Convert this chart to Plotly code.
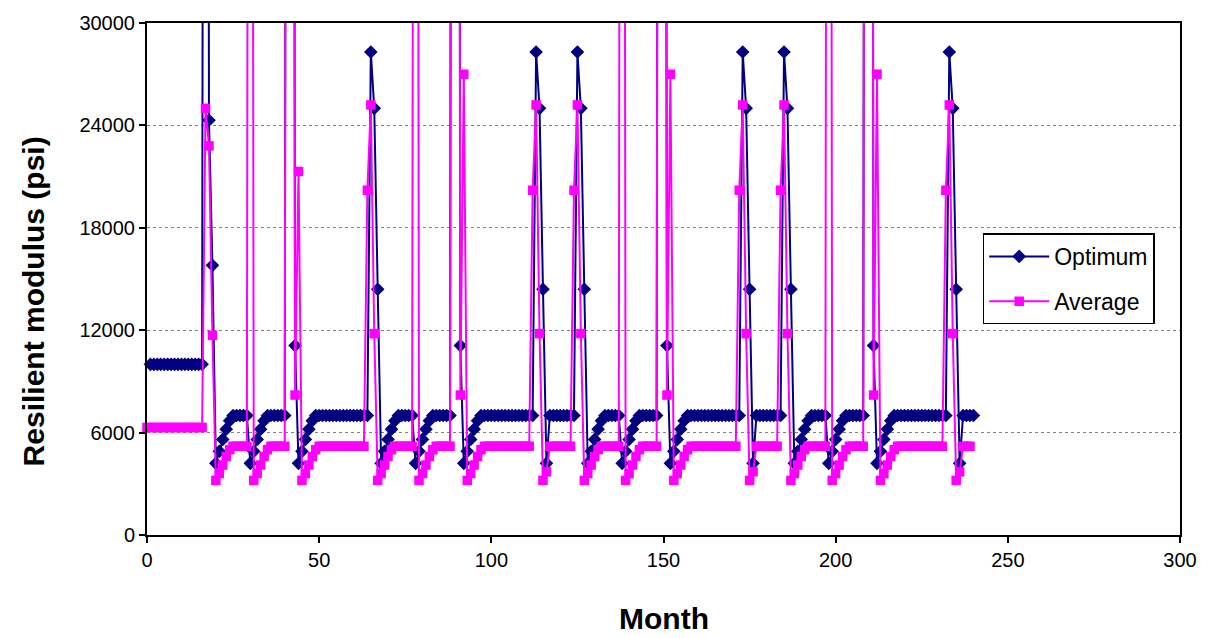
import plotly.graph_objects as go

# Monthly resilient modulus (psi) of the subgrade over 20 years.
# Values above 30000 psi are frozen-soil periods that run off the top of the axis.

# Optimum moisture content, months 1..240 (one row per 12 months)
opt_month = list(range(1, 241))
opt_psi = [
    10000, 10000, 10000, 10000, 10000, 10000, 10000, 10000, 10000, 10000, 10000, 10000,
    10000, 10000, 10000, 10000, 150000, 24300, 15800, 4200, 4900, 5600, 6200, 6700,
    7000, 7000, 7000, 7000, 7000, 4200, 4900, 5600, 6200, 6700, 7000, 7000,
    7000, 7000, 7000, 7000, 150000, 150000, 11100, 4200, 4900, 5600, 6200, 6700,
    7000, 7000, 7000, 7000, 7000, 7000, 7000, 7000, 7000, 7000, 7000, 7000,
    7000, 7000, 7000, 7000, 28300, 25000, 14400, 4200, 4900, 5600, 6200, 6700,
    7000, 7000, 7000, 7000, 7000, 4200, 4900, 5600, 6200, 6700, 7000, 7000,
    7000, 7000, 7000, 7000, 150000, 150000, 11100, 4200, 4900, 5600, 6200, 6700,
    7000, 7000, 7000, 7000, 7000, 7000, 7000, 7000, 7000, 7000, 7000, 7000,
    7000, 7000, 7000, 7000, 28300, 25000, 14400, 4200, 7000, 7000, 7000, 7000,
    7000, 7000, 7000, 7000, 28300, 25000, 14400, 4200, 4900, 5600, 6200, 6700,
    7000, 7000, 7000, 7000, 7000, 4200, 4900, 5600, 6200, 6700, 7000, 7000,
    7000, 7000, 7000, 7000, 150000, 150000, 11100, 4200, 4900, 5600, 6200, 6700,
    7000, 7000, 7000, 7000, 7000, 7000, 7000, 7000, 7000, 7000, 7000, 7000,
    7000, 7000, 7000, 7000, 28300, 25000, 14400, 4200, 7000, 7000, 7000, 7000,
    7000, 7000, 7000, 7000, 28300, 25000, 14400, 4200, 4900, 5600, 6200, 6700,
    7000, 7000, 7000, 7000, 7000, 4200, 4900, 5600, 6200, 6700, 7000, 7000,
    7000, 7000, 7000, 7000, 150000, 150000, 11100, 4200, 4900, 5600, 6200, 6700,
    7000, 7000, 7000, 7000, 7000, 7000, 7000, 7000, 7000, 7000, 7000, 7000,
    7000, 7000, 7000, 7000, 28300, 25000, 14400, 4200, 7000, 7000, 7000, 7000,
]

# Average moisture content, months 0..239 (one row per 12 months)
avg_month = list(range(0, 240))
avg_psi = [
    6300, 6300, 6300, 6300, 6300, 6300, 6300, 6300, 6300, 6300, 6300, 6300,
    6300, 6300, 6300, 6300, 6300, 25000, 22800, 11700, 3200, 3600, 4100, 4600,
    5000, 5200, 5200, 5200, 5200, 5200, 150000, 3200, 3600, 4100, 4600, 5000,
    5200, 5200, 5200, 5200, 5200, 150000, 150000, 8200, 21300, 3200, 3600, 4100,
    4600, 5000, 5200, 5200, 5200, 5200, 5200, 5200, 5200, 5200, 5200, 5200,
    5200, 5200, 5200, 5200, 20200, 25200, 11800, 3200, 3600, 4100, 4600, 5000,
    5200, 5200, 5200, 5200, 5200, 5200, 150000, 3200, 3600, 4100, 4600, 5000,
    5200, 5200, 5200, 5200, 5200, 150000, 150000, 8200, 27000, 3200, 3600, 4100,
    4600, 5000, 5200, 5200, 5200, 5200, 5200, 5200, 5200, 5200, 5200, 5200,
    5200, 5200, 5200, 5200, 20200, 25200, 11800, 3200, 3700, 5200, 5200, 5200,
    5200, 5200, 5200, 5200, 20200, 25200, 11800, 3200, 3600, 4100, 4600, 5000,
    5200, 5200, 5200, 5200, 5200, 5200, 150000, 3200, 3600, 4100, 4600, 5000,
    5200, 5200, 5200, 5200, 5200, 150000, 150000, 8200, 27000, 3200, 3600, 4100,
    4600, 5000, 5200, 5200, 5200, 5200, 5200, 5200, 5200, 5200, 5200, 5200,
    5200, 5200, 5200, 5200, 20200, 25200, 11800, 3200, 3700, 5200, 5200, 5200,
    5200, 5200, 5200, 5200, 20200, 25200, 11800, 3200, 3600, 4100, 4600, 5000,
    5200, 5200, 5200, 5200, 5200, 5200, 150000, 3200, 3600, 4100, 4600, 5000,
    5200, 5200, 5200, 5200, 5200, 150000, 150000, 8200, 27000, 3200, 3600, 4100,
    4600, 5000, 5200, 5200, 5200, 5200, 5200, 5200, 5200, 5200, 5200, 5200,
    5200, 5200, 5200, 5200, 20200, 25200, 11800, 3200, 3700, 5200, 5200, 5200,
]

x_ticks = [0, 50, 100, 150, 200, 250, 300]
y_ticks = [0, 6000, 12000, 18000, 24000, 30000]
y_tick_labels = ["0", "6000", "12000", "18000", "24000", "30000"]

assert len(opt_psi) == len(opt_month) and len(avg_psi) == len(avg_month)

FONT = "Liberation Sans, Arial, sans-serif"
NAVY = "#000080"
MAGENTA = "#FF00FF"

fig = go.Figure()
fig.add_trace(go.Scatter(
    x=opt_month, y=opt_psi, name="Optimum", mode="lines+markers",
    line=dict(color=NAVY, width=2),
    marker=dict(symbol="diamond", size=10.5, color=NAVY),
    cliponaxis=False, legendgroup="a",
))
fig.add_trace(go.Scatter(
    x=avg_month, y=avg_psi, name="Average", mode="lines+markers",
    line=dict(color=MAGENTA, width=2),
    marker=dict(symbol="square", size=9.5, color=MAGENTA),
    cliponaxis=False, legendgroup="b",
))

fig.update_layout(
    width=1210, height=638,
    margin=dict(l=147, r=30, t=19, b=103),
    paper_bgcolor="white", plot_bgcolor="white",
    font=dict(family=FONT, size=20, color="black"),
    showlegend=True,
    legend=dict(
        x=0.809, y=0.589, xanchor="left", yanchor="top",
        bgcolor="white", bordercolor="black", borderwidth=1.5,
        font=dict(family=FONT, size=23, color="black"),
        itemwidth=60, tracegroupgap=12, traceorder="grouped",
    ),
    xaxis=dict(
        range=[0, 300], tickvals=x_ticks, ticks="outside", ticklen=6,
        tickwidth=1.5, tickcolor="black", showline=True, linecolor="black",
        linewidth=2, mirror=True, showgrid=False, zeroline=False,
        tickfont=dict(size=20),
    ),
    yaxis=dict(
        range=[0, 30000], tickvals=y_ticks, ticktext=y_tick_labels,
        ticks="outside", ticklen=6,
        tickwidth=1.5, tickcolor="black", showline=True, linecolor="black",
        linewidth=2, mirror=True, showgrid=True, gridcolor="#808080",
        griddash="dot", gridwidth=1, zeroline=False,
        tickfont=dict(size=20),
    ),
    annotations=[
        dict(text="<b>Month</b>", x=0.5, y=-0.163, xref="paper", yref="paper",
             xanchor="center", yanchor="middle", showarrow=False,
             font=dict(family=FONT, size=30, color="black")),
        dict(text="<b>Resilient modulus (psi)</b>", x=-0.11, y=0.457,
             xref="paper", yref="paper", xanchor="center", yanchor="middle",
             textangle=-90, showarrow=False,
             font=dict(family=FONT, size=30, color="black")),
    ],
)

fig.write_html("out.html")
